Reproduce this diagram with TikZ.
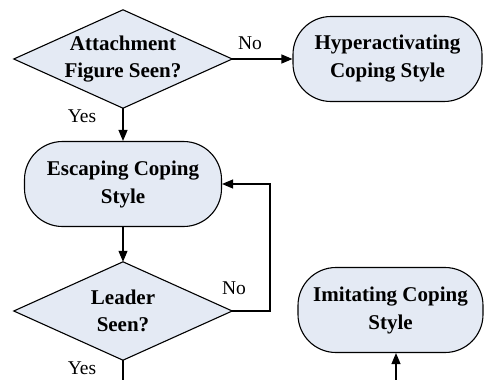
\documentclass[tikz,border=0pt]{standalone}
\usepackage{fontspec}
\setmainfont{Liberation Serif}
\usetikzlibrary{arrows.meta,backgrounds}
\definecolor{boxfill}{RGB}{228,234,244}
\tikzset{
  decision/.style={rectangle, inner sep=0pt, minimum width=218pt, minimum height=98pt,
    align=center, font=\fontsize{21}{27}\selectfont\bfseries},
  diamondpath/.style={draw=black, line width=1.1pt, fill=boxfill, line join=miter},
  terminal/.style={rectangle, rounded corners=38pt, draw=black, line width=1.1pt, fill=boxfill,
    inner sep=0pt, minimum height=85pt, align=center, font=\fontsize{21}{28}\selectfont\bfseries},
  conn/.style={line width=1.1pt, -{Triangle[length=11pt,width=9pt]}},
  plainconn/.style={line width=1.1pt},
  lbl/.style={font=\fontsize{19.5}{22}\selectfont, inner sep=0pt}
}
\begin{document}
\begin{tikzpicture}[x=1pt,y=-1pt]
\useasboundingbox (0,0) rectangle (485,380);
\node[decision] (d1) at (123,59) {Attachment\\Figure Seen?};
\node[terminal, minimum width=189pt] (hyper) at (387.5,59) {Hyperactivating\\Coping Style};
\node[terminal, minimum width=197pt] (esc) at (123,184) {Escaping Coping\\Style};
\node[decision] (d2) at (123,311) {Leader\\Seen?};
\node[terminal, minimum width=185pt] (imit) at (390.5,310) {Imitating Coping\\Style};
\begin{scope}[on background layer]
  \draw[diamondpath] (d1.north) -- (d1.east) -- (d1.south) -- (d1.west) -- cycle;
  \draw[diamondpath] (d2.north) -- (d2.east) -- (d2.south) -- (d2.west) -- cycle;
\end{scope}
\coordinate (bot1) at (123,380);
\coordinate (bot2) at (396,380);
\coordinate (loopc) at (270,311);
\draw[conn] (d1.east) -- (hyper.west);
\draw[conn] (d1.south) -- (esc.north);
\draw[conn] (esc.south) -- (d2.north);
\draw[conn] (d2.east) -- (loopc) |- (esc.east);
\draw[plainconn] (d2.south) -- (bot1);
\draw[conn] (bot2) -- (bot2 |- imit.south);
\node[lbl] (no1) at (250,43) {No};
\node[lbl] (yes1) at (82,116) {Yes};
\node[lbl] (no2) at (234,288) {No};
\node[lbl] (yes2) at (82,368) {Yes};
\end{tikzpicture}
\end{document}
